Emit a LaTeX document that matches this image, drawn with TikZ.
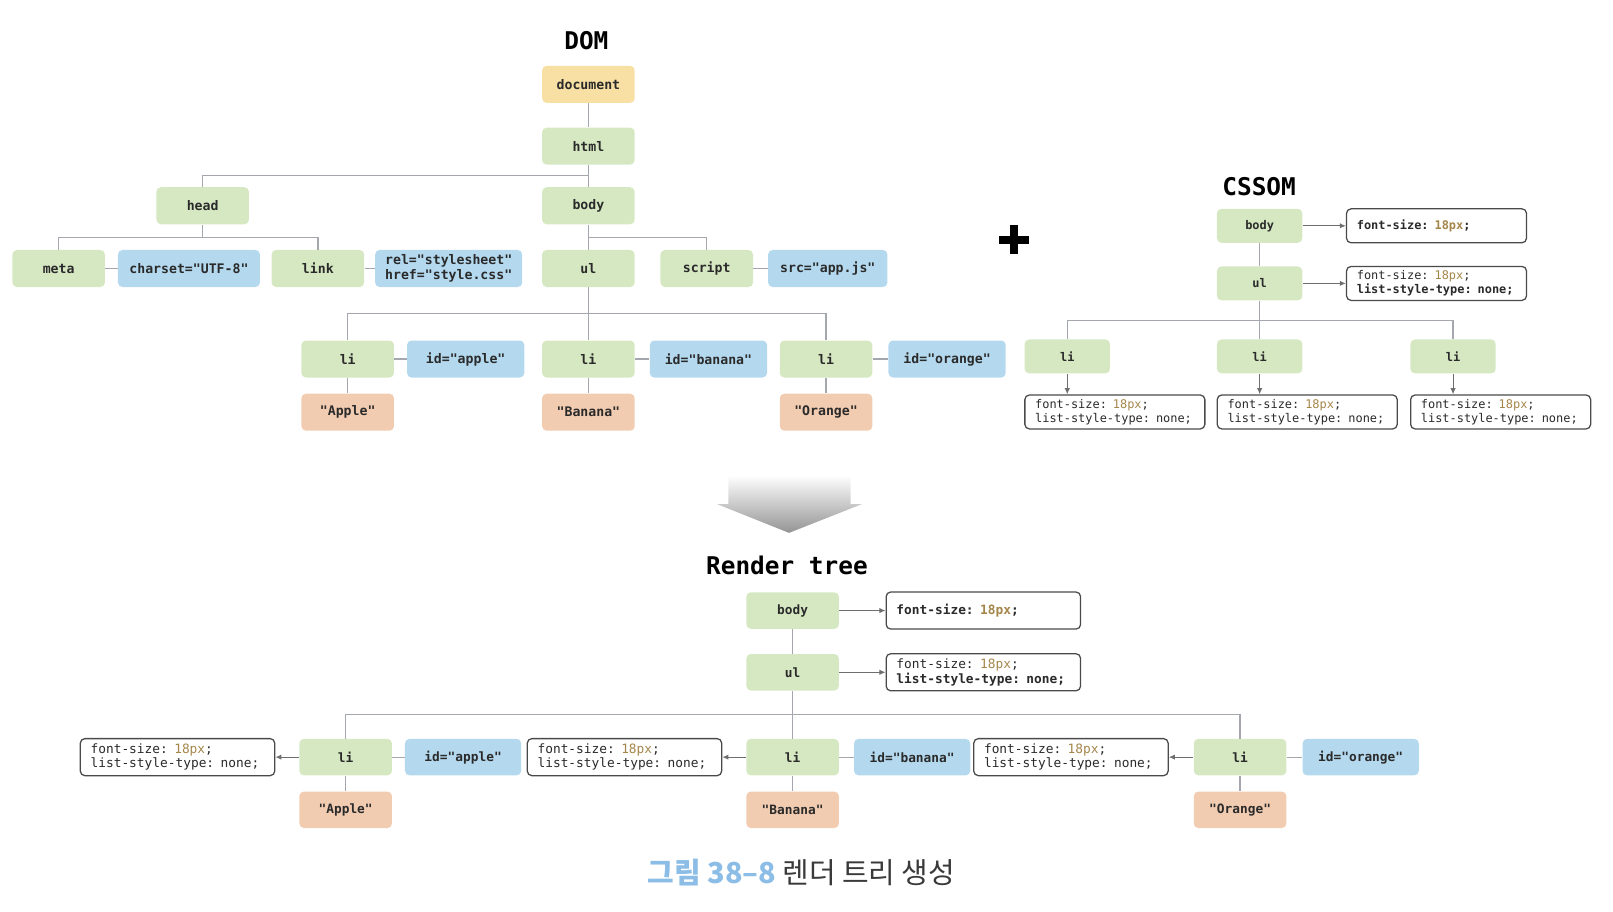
\documentclass[tikz,border=0pt]{standalone}
\usepackage{fontspec}
\setmonofont{DejaVu Sans Mono}
\newfontfamily\krfont{Noto Sans CJK KR}
\usepackage{tikz}
\usetikzlibrary{arrows.meta,positioning}

\definecolor{nodegreen}{HTML}{D6E8C2}
\definecolor{attrblue}{HTML}{B4D9EF}
\definecolor{textpeach}{HTML}{F2CCB1}
\definecolor{docyellow}{HTML}{F8DFA3}
\definecolor{linegray}{HTML}{A4A7AE}
\definecolor{arrowgray}{HTML}{6E6E6E}
\definecolor{boxborder}{HTML}{4A4A4A}
\definecolor{textdark}{HTML}{2A2A2A}
\definecolor{pxgold}{HTML}{A5864A}
\definecolor{capblue}{HTML}{8BBDE6}
\definecolor{capgray}{HTML}{3A3A3A}

\newcommand{\sizeval}[1]{\textcolor{pxgold}{#1}}

\begin{document}
\begin{tikzpicture}[x=0.02cm, y=-0.02cm, >={Latex[length=3.4pt,width=3pt]}, node distance=0.24cm,
    tag/.style={rectangle, rounded corners=2.5pt, fill=nodegreen, inner sep=0pt, minimum width=1.8cm, minimum height=0.72cm, text=textdark, font=\ttfamily\bfseries\fontsize{7.3}{8.6}\selectfont},
    attr/.style={tag, fill=attrblue},
    txt/.style={tag, fill=textpeach},
    ctag/.style={tag, minimum width=1.66cm, minimum height=0.66cm, font=\ttfamily\bfseries\fontsize{6.6}{7.7}\selectfont},
    rtag/.style={tag, minimum height=0.71cm, font=\ttfamily\bfseries\fontsize{7.1}{8.1}\selectfont},
    cbox/.style={rectangle, rounded corners=2.5pt, draw=boxborder, line width=0.7pt, fill=white, inner xsep=0.2cm, inner ysep=0pt, text width=3.1cm, align=left, minimum height=0.66cm, text=textdark, font=\ttfamily\fontsize{6.6}{7.7}\selectfont},
    rbox/.style={cbox, text width=3.38cm, minimum height=0.72cm, font=\ttfamily\fontsize{7.1}{8.1}\selectfont},
    title/.style={font=\ttfamily\bfseries\fontsize{13.5}{16}\selectfont, text=black},
    tline/.style={linegray, line width=0.7pt},
    aline/.style={->, arrowgray, line width=0.6pt}]
    \useasboundingbox (0,0) rectangle (1568,886);

    % DOM
    \node[title]                 (domt)    at (570,39)   {DOM};
    \node[tag, fill=docyellow]   (doc)     at (572,82)   {document};
    \node[tag]                   (html)    at (572,142)  {html};
    \node[tag]                   (head)    at (197,200)  {head};
    \node[tag]                   (body)    at (572,200)  {body};
    \node[tag]                   (meta)    at (57,261)   {meta};
    \node[attr, minimum width=2.76cm]  (charset) [right=of meta]        {charset="UTF-8"};
    \node[tag]                   (link)    at (309,261)  {link};
    \node[attr, minimum width=2.86cm, align=left] (rel) [right=0.2cm of link] {rel="stylesheet"\\href="style.css"};
    \node[tag]                   (ul)      at (572,261)  {ul};
    \node[tag]                   (script)  at (687,261)  {script};
    \node[attr, minimum width=2.32cm]  (src)     [right=0.28cm of script] {src="app.js"};
    \node[tag]                   (li1)     at (338,349)  {li};
    \node[attr, minimum width=2.28cm]  (apple)   [right=of li1]         {id="apple"};
    \node[tag]                   (li2)     at (572,349)  {li};
    \node[attr, minimum width=2.28cm]  (banana)  [right=0.28cm of li2]  {id="banana"};
    \node[tag]                   (li3)     at (803,349)  {li};
    \node[attr, minimum width=2.28cm]  (orange)  [right=0.3cm of li3]   {id="orange"};
    \node[txt]                   (tapple)  [below=0.3cm of li1]         {"Apple"};
    \node[txt]                   (tbanana) [below=0.3cm of li2]         {"Banana"};
    \node[txt]                   (torange) [below=0.3cm of li3]         {"Orange"};

    \path[tline] (doc) edge (html)
                 (html) edge (body)
                 (body) edge (ul)
                 (ul) edge (li2)
                 (meta) edge (charset)
                 (link) edge (rel)
                 (script) edge (src)
                 (li1) edge (apple)  (li1) edge (tapple)
                 (li2) edge (banana) (li2) edge (tbanana)
                 (li3) edge (orange) (li3) edge (torange);
    \draw[tline] (head.north) -- ++(0,-11) -| (html.south);
    \draw[tline] (meta.north) -- ++(0,-12) -| (head.south);
    \draw[tline] (link.north) -- ++(0,-12) -| (head.south);
    \draw[tline] (script.north) -- ++(0,-12) -| (body.south);
    \draw[tline] (li1.north) -- ++(0,-26) -| (ul.south);
    \draw[tline] (li3.north) -- ++(0,-26) -| (ul.south);

    % plus
    \fill[black] (971,229) rectangle (1000,237);
    \fill[black] (981.5,219) rectangle (989.5,247);

    % CSSOM
    \node[title]                 (cssomt)  at (1224,181)     {CSSOM};
    \node[ctag]                  (cbody)   at (1224.5,219.5) {body};
    \node[cbox]                  (cbodyp)  [right=0.84cm of cbody] {\bfseries font-size: \sizeval{18px};};
    \node[ctag]                  (cul)     at (1224.5,275.5) {ul};
    \node[cbox]                  (culp)    [right=0.84cm of cul]   {font-size: \sizeval{18px};\\\textbf{list-style-type: none;}};
    \node[ctag]                  (cli1)    at (1037.5,346.5) {li};
    \node[ctag]                  (cli2)    at (1224.5,346.5) {li};
    \node[ctag]                  (cli3)    at (1412.5,346.5) {li};
    \node[cbox]  (cli1p) [below=0.4cm of cli1.south west, anchor=north west] {font-size: \sizeval{18px};\\list-style-type: none;};
    \node[cbox]  (cli2p) [below=0.4cm of cli2.south west, anchor=north west] {font-size: \sizeval{18px};\\list-style-type: none;};
    \node[cbox]  (cli3p) [below=0.4cm of cli3.south west, anchor=north west] {font-size: \sizeval{18px};\\list-style-type: none;};

    \path[tline] (cbody) edge (cul)
                 (cul) edge (cli2);
    \draw[tline] (cli1.north) -- ++(0,-18) -| (cul.south);
    \draw[tline] (cli3.north) -- ++(0,-18) -| (cul.south);
    \path[aline] (cbody) edge (cbodyp)
                 (cul) edge (culp)
                 (cli1.south) edge (cli1.south |- cli1p.north)
                 (cli2.south) edge (cli2.south |- cli2p.north)
                 (cli3.south) edge (cli3.south |- cli3p.north);

    % arrow down
    \shade[top color=white, bottom color=black!42] (708,462) -- (827,462) -- (827,490) -- (838,490)
        -- (767,518) -- (697,490) -- (708,490) -- cycle;

    % Render tree
    \node[title]                 (rendert) at (765,550)   {Render tree};
    \node[rtag]                  (rbody)   at (770.5,593.5) {body};
    \node[rbox]                  (rbodyp)  [right=0.9cm of rbody] {\bfseries font-size: \sizeval{18px};};
    \node[rtag]                  (rul)     at (770.5,653.5) {ul};
    \node[rbox]                  (rulp)    [right=0.9cm of rul]   {font-size: \sizeval{18px};\\\textbf{list-style-type: none;}};
    \node[rtag]                  (rli1)    at (336,736)    {li};
    \node[rtag, fill=attrblue, minimum width=2.26cm] (rapple)  [right=of rli1]        {id="apple"};
    \node[rbox]                  (rli1p)   [left=0.46cm of rli1]  {font-size: \sizeval{18px};\\list-style-type: none;};
    \node[rtag, fill=textpeach]  (rtapple) [below=0.3cm of rli1]  {"Apple"};
    \node[rtag]                  (rli2)    at (770.5,736)  {li};
    \node[rtag, fill=attrblue, minimum width=2.26cm] (rbanana) [right=0.28cm of rli2] {id="banana"};
    \node[rbox]                  (rli2p)   [left=0.46cm of rli2]  {font-size: \sizeval{18px};\\list-style-type: none;};
    \node[rtag, fill=textpeach]  (rtbanana) [below=0.3cm of rli2] {"Banana"};
    \node[rtag]                  (rli3)    at (1205.5,736) {li};
    \node[rtag, fill=attrblue, minimum width=2.26cm] (rorange) [right=0.3cm of rli3]  {id="orange"};
    \node[rbox]                  (rli3p)   [left=0.48cm of rli3]  {font-size: \sizeval{18px};\\list-style-type: none;};
    \node[rtag, fill=textpeach]  (rtorange) [below=0.3cm of rli3] {"Orange"};

    \path[tline] (rbody) edge (rul)
                 (rul) edge (rli2)
                 (rli1) edge (rapple)  (rli1) edge (rtapple)
                 (rli2) edge (rbanana) (rli2) edge (rtbanana)
                 (rli3) edge (rorange) (rli3) edge (rtorange);
    \draw[tline] (rli1.north) -- ++(0,-23) -| (rul.south);
    \draw[tline] (rli3.north) -- ++(0,-23) -| (rul.south);
    \path[aline] (rbody) edge (rbodyp)
                 (rul) edge (rulp)
                 (rli1) edge (rli1p)
                 (rli2) edge (rli2p)
                 (rli3) edge (rli3p);

    % caption
    \node[font=\krfont\fontsize{16}{19}\selectfont, text=capgray] (caption) at (779,848)
        {\textcolor{capblue}{\bfseries 그림 38–8} 렌더 트리 생성};
\end{tikzpicture}
\end{document}
